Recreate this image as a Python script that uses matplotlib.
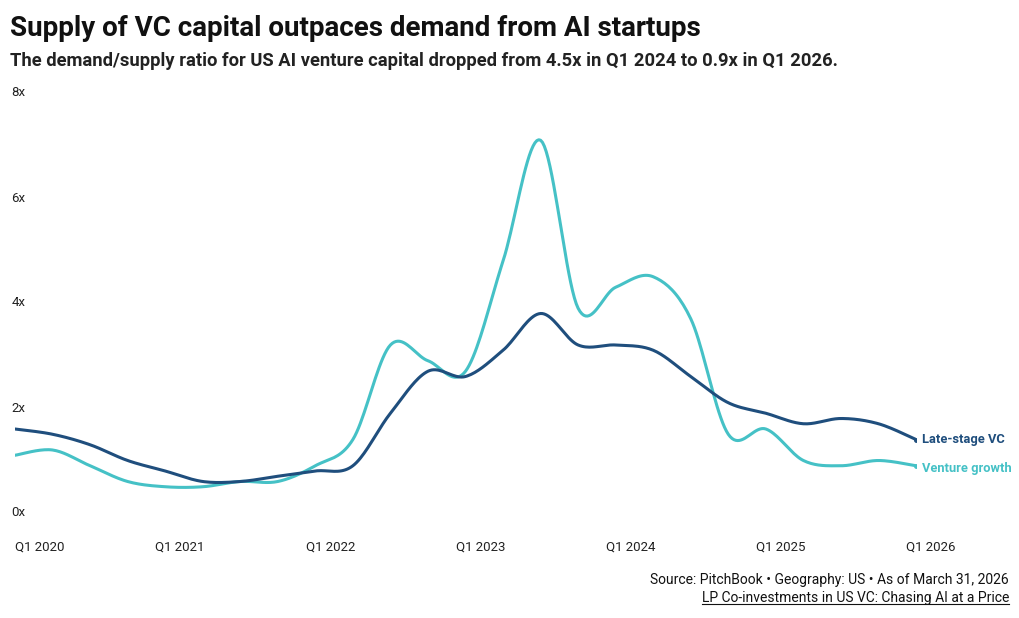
import numpy as np
import matplotlib
matplotlib.use("Agg")
import matplotlib.pyplot as plt

plt.rcParams['font.family'] = ['Roboto', 'DejaVu Sans']

quarters = list(range(25))  # Q1 2020 .. Q1 2026
late_stage = [1.6, 1.5, 1.3, 1.0, 0.8, 0.6, 0.6, 0.7, 0.8, 0.9, 1.9, 2.7, 2.6, 3.1, 3.8,
              3.2, 3.2, 3.1, 2.6, 2.1, 1.9, 1.7, 1.8, 1.7, 1.4]
venture_growth = [1.1, 1.2, 0.9, 0.6, 0.5, 0.5, 0.6, 0.6, 0.9, 1.4, 3.2, 2.9, 2.7, 4.8, 7.1,
                  3.9, 4.3, 4.5, 3.7, 1.5, 1.6, 1.0, 0.9, 1.0, 0.9]
xtick_pos = [0, 4, 8, 12, 16, 20, 24]
xtick_labels = ["Q1 2020", "Q1 2021", "Q1 2022", "Q1 2023", "Q1 2024", "Q1 2025", "Q1 2026"]
ytick_vals = [0, 2, 4, 6, 8]

def smooth(x, y, n=20):
    x = np.asarray(x, float); y = np.asarray(y, float)
    px = np.concatenate([[x[0]], x, [x[-1]]]); py = np.concatenate([[y[0]], y, [y[-1]]])
    xs, ys = [], []
    t = np.linspace(0, 1, n, endpoint=False)
    for i in range(1, len(px) - 2):
        for P, out in ((px, xs), (py, ys)):
            p0, p1, p2, p3 = P[i-1], P[i], P[i+1], P[i+2]
            out.extend(0.5 * ((2*p1) + (-p0+p2)*t + (2*p0-5*p1+4*p2-p3)*t**2 + (-p0+3*p1-3*p2+p3)*t**3))
    xs.append(x[-1]); ys.append(y[-1])
    return np.array(xs), np.array(ys)

dark = "#1f4e7d"
teal = "#45c1c6"

fig = plt.figure(figsize=(10.2, 6.18), dpi=100)
ax = fig.add_axes([15/1020, 1-513/618, 901/1020, 420/618])
for data, c in ((venture_growth, teal), (late_stage, dark)):
    sx, sy = smooth(quarters, data)
    ax.plot(sx, sy, color=c, lw=2.2, solid_capstyle='round')
    ax.plot(quarters[-1], data[-1], 'o', color=c, ms=2.5)
ax.set_xlim(0, 24)
ax.set_ylim(0, 8)
for s in ax.spines.values():
    s.set_visible(False)
ax.set_xticks([]); ax.set_yticks([])
for v in ytick_vals:
    ax.text(-0.1, v, f"{v}x", ha='left', va='center', fontsize=9.5, color='#222')
for i, (p, l) in enumerate(zip(xtick_pos, xtick_labels)):
    ax.text(p + (0 if i == 0 else 0.4), -0.65, l, ha='left' if i == 0 else 'center',
            va='center', fontsize=9.5, color='#222')
ax.text(24.15, late_stage[-1] + 0.0, "Late-stage VC", color=dark, fontsize=9.3, weight='bold', va='center')
ax.text(24.15, venture_growth[-1] - 0.05, "Venture growth", color=teal, fontsize=9.3, weight='bold', va='center')

fig.text(10/1020, 1-28/618, "Supply of VC capital outpaces demand from AI startups", fontsize=20,
         weight='bold', va='center', ha='left', color='#111')
fig.text(10/1020, 1-61/618, "The demand/supply ratio for US AI venture capital dropped from 4.5x in Q1 2024 to 0.9x in Q1 2026.",
         fontsize=13.2, weight='bold', va='center', ha='left', color='#222')
fig.text(1009/1020, 1-580/618, "Source: PitchBook • Geography: US • As of March 31, 2026", fontsize=10,
         ha='right', va='center', color='#111')
t = fig.text(1009/1020, 1-598/618, "LP Co-investments in US VC: Chasing AI at a Price", fontsize=10,
             ha='right', va='center', color='#111')
fig.canvas.draw()
bb = t.get_window_extent()
fig.add_artist(plt.Line2D([bb.x0/1020, bb.x1/1020], [(bb.y0+1)/618]*2, color='#111', lw=0.8))

fig.savefig("out.png", dpi=100)
